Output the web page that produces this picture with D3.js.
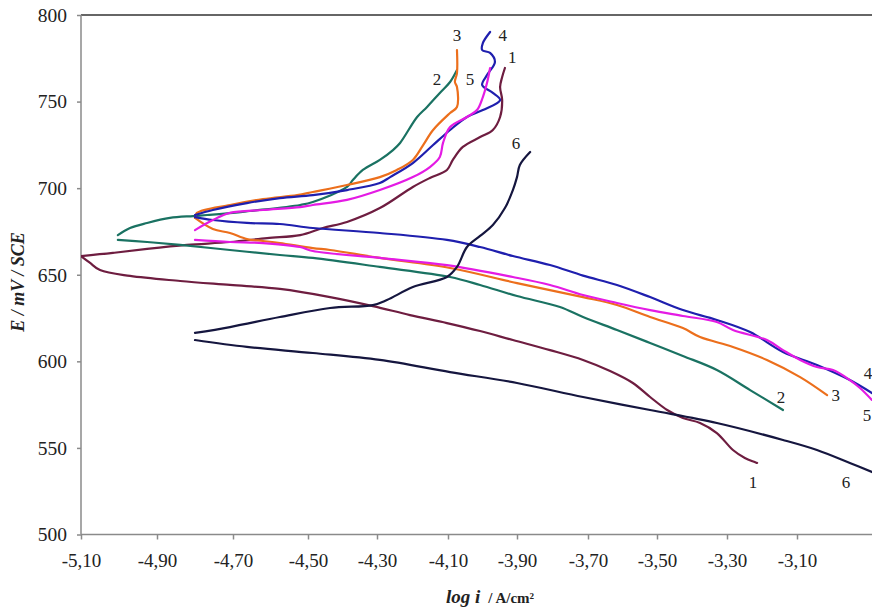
<!DOCTYPE html>
<html>
<head>
<meta charset="utf-8">
<script src="https://cdn.jsdelivr.net/npm/d3@7"></script>
<style>
  html, body { margin: 0; padding: 0; background: #fff; }
  svg { display: block; }
</style>
</head>
<body>
<svg id="chart" width="872" height="609"></svg>
<script>
// Tafel polarization curves, samples 1-6: E (mV vs SCE) against log i (A/cm²)
const xTicks = [-5.1, -4.9, -4.7, -4.5, -4.3, -4.1, -3.9, -3.7, -3.5, -3.3, -3.1];
const yTicks = [500, 550, 600, 650, 700, 750, 800];
const seriesNames = ["1", "2", "3", "4", "5", "6"];
const seriesColors = ["#6e1d40", "#1a7262", "#ec6f1c", "#1f1fae", "#e41be4", "#15163f"];

// cathodic branches, from corrosion potential outwards: [log i, E]
const cathodic1 = [[-5.100,660.8],[-5.076,656.8],[-5.050,652.7],[-4.971,649.3],[-4.839,646.4],[-4.708,644.1],[-4.575,641.8],[-4.436,637.1],[-4.312,631.9],[-4.207,626.7],[-4.103,622.1],[-4.007,617.5],[-3.912,612.3],[-3.807,606.5],[-3.714,600.8],[-3.636,594.4],[-3.570,587.5],[-3.520,579.4],[-3.471,571.9],[-3.426,567.3],[-3.377,564.4],[-3.329,558.6],[-3.283,548.8],[-3.249,544.2],[-3.214,541.3]];
const cathodic2 = [[-5.003,670.1],[-4.926,668.9],[-4.839,667.2],[-4.708,664.3],[-4.575,661.4],[-4.486,659.7],[-4.292,654.5],[-4.094,648.7],[-4.007,644.1],[-3.900,637.7],[-3.779,631.4],[-3.714,625.6],[-3.616,618.1],[-3.520,610.6],[-3.426,603.1],[-3.329,595.0],[-3.234,583.4],[-3.140,571.9]];
const cathodic3 = [[-4.800,682.8],[-4.753,676.4],[-4.708,674.1],[-4.663,670.6],[-4.620,669.5],[-4.575,668.3],[-4.486,665.4],[-4.436,664.3],[-4.292,659.7],[-4.094,653.9],[-3.900,645.2],[-3.714,637.1],[-3.616,632.5],[-3.520,625.6],[-3.426,619.2],[-3.377,614.0],[-3.283,608.3],[-3.186,600.8],[-3.091,590.9],[-3.014,580.5]];
const cathodic4 = [[-4.800,683.3],[-4.753,681.6],[-4.663,679.9],[-4.575,679.3],[-4.486,677.0],[-4.292,674.1],[-4.103,670.1],[-4.007,666.0],[-3.912,660.8],[-3.807,655.6],[-3.714,649.5],[-3.616,644.1],[-3.520,637.1],[-3.426,629.6],[-3.329,623.9],[-3.234,616.9],[-3.140,605.4],[-3.043,597.9],[-2.949,589.2],[-2.886,581.7]];
const cathodic5 = [[-4.800,670.1],[-4.708,668.9],[-4.620,668.3],[-4.521,666.0],[-4.486,663.7],[-4.292,659.7],[-4.103,655.6],[-3.912,648.7],[-3.807,644.1],[-3.714,638.3],[-3.616,633.7],[-3.520,629.6],[-3.426,626.2],[-3.329,622.7],[-3.283,618.1],[-3.186,612.3],[-3.140,606.5],[-3.091,600.8],[-3.043,596.7],[-2.997,595.0],[-2.949,589.2],[-2.920,584.6],[-2.886,577.7]];
const cathodic6 = [[-4.800,612.3],[-4.663,608.3],[-4.486,604.8],[-4.292,600.8],[-4.094,593.8],[-3.900,587.5],[-3.714,579.4],[-3.520,571.9],[-3.329,564.4],[-3.140,554.6],[-3.043,548.8],[-2.949,541.3],[-2.886,536.1]];

// anodic branches, from corrosion potential outwards: [log i, E]
const anodic1 = [[-5.100,660.8],[-5.016,662.6],[-4.926,664.9],[-4.821,667.2],[-4.708,668.9],[-4.609,671.2],[-4.521,672.9],[-4.457,677.0],[-4.387,680.5],[-4.292,688.5],[-4.199,700.7],[-4.151,705.9],[-4.103,710.5],[-4.086,716.3],[-4.057,723.8],[-4.007,729.5],[-3.970,733.6],[-3.949,741.1],[-3.943,750.9],[-3.949,758.4],[-3.943,764.2],[-3.935,769.4]];
const anodic2 = [[-5.003,672.9],[-4.971,677.0],[-4.926,679.9],[-4.866,682.8],[-4.805,683.9],[-4.768,684.5],[-4.700,685.7],[-4.655,686.8],[-4.521,690.3],[-4.486,692.0],[-4.387,700.7],[-4.370,704.7],[-4.341,710.5],[-4.292,716.3],[-4.255,722.0],[-4.235,726.1],[-4.187,741.1],[-4.159,746.9],[-4.123,755.0],[-4.094,761.3],[-4.074,768.2]];
const anodic3 = [[-4.800,682.8],[-4.795,685.7],[-4.708,690.3],[-4.620,693.7],[-4.529,696.0],[-4.486,697.8],[-4.387,701.8],[-4.292,706.4],[-4.244,710.5],[-4.199,716.3],[-4.170,724.9],[-4.142,733.6],[-4.094,743.4],[-4.074,746.9],[-4.074,758.4],[-4.080,761.3],[-4.074,766.5],[-4.074,779.8]];
const anodic4 = [[-4.800,684.5],[-4.753,687.4],[-4.663,691.4],[-4.575,694.3],[-4.486,696.0],[-4.387,698.9],[-4.292,703.0],[-4.263,706.4],[-4.199,714.5],[-4.142,724.9],[-4.094,733.6],[-4.045,741.1],[-3.999,745.1],[-3.949,750.9],[-3.970,755.0],[-4.001,759.6],[-3.987,765.3],[-3.964,772.9],[-3.978,778.1],[-4.001,779.8],[-3.999,783.8],[-3.978,790.2]];
const anodic5 = [[-4.800,675.8],[-4.753,681.6],[-4.708,685.7],[-4.620,687.4],[-4.521,689.1],[-4.486,690.3],[-4.387,693.2],[-4.292,698.9],[-4.199,706.4],[-4.151,712.2],[-4.123,718.0],[-4.114,726.1],[-4.094,735.3],[-4.045,741.1],[-4.016,745.1],[-3.999,752.6],[-3.987,760.7],[-3.978,769.4]];
const anodic6 = [[-4.800,616.4],[-4.708,619.8],[-4.575,625.6],[-4.436,630.8],[-4.312,632.5],[-4.272,635.4],[-4.199,642.9],[-4.103,648.7],[-4.074,654.5],[-4.045,666.0],[-4.007,672.4],[-3.970,678.7],[-3.935,688.5],[-3.912,698.9],[-3.900,706.4],[-3.892,713.4],[-3.863,720.9]];

// curve number annotations, placed in data coordinates: [log i, E]
const anodicTags = [[-3.914,775.7],[-4.131,763.2],[-4.074,788.3],[-3.941,788.3],[-4.036,763.2],[-3.903,726.1]];
const cathodicTags = [[-3.226,530.5],[-3.146,579.4],[-2.989,580.5],[-2.897,593.5],[-2.900,568.7],[-2.960,530.5]];

const cathodic = [cathodic1, cathodic2, cathodic3, cathodic4, cathodic5, cathodic6];
const anodic = [anodic1, anodic2, anodic3, anodic4, anodic5, anodic6];

const W = 872, H = 609;
const plotLeft = 81, plotTop = 15, plotBottom = 534.5, plotRight = 872;
const serif = "'Liberation Serif', 'Times New Roman', serif";

const svg = d3.select("#chart");
svg.append("rect").attr("width", W).attr("height", H).attr("fill", "#fff");

// the printed abscissa is not evenly spaced, so the scale is piecewise through each labelled value
const x = d3.scaleLinear()
  .domain([...xTicks, -2.9])
  .range([81, 157, 233, 308, 377, 448, 517, 588, 657, 727, 797, 867]);
const y = d3.scaleLinear().domain([500, 800]).range([plotBottom, plotTop]);

const locale = d3.formatLocale({ decimal: ",", thousands: ".", grouping: [3], currency: ["", ""], minus: "-" });
const fmtX = locale.format(".2f");

// plot frame: top border plus the two axis lines
svg.append("line").attr("x1", plotLeft).attr("x2", plotRight).attr("y1", plotTop).attr("y2", plotTop)
  .attr("stroke", "#333").attr("stroke-width", 1.5);
svg.append("line").attr("x1", plotLeft).attr("x2", plotLeft).attr("y1", plotTop).attr("y2", plotBottom)
  .attr("stroke", "#8a8a8a").attr("stroke-width", 1.5);
svg.append("line").attr("x1", plotLeft).attr("x2", plotRight).attr("y1", plotBottom).attr("y2", plotBottom)
  .attr("stroke", "#8a8a8a").attr("stroke-width", 1.5);

const gx = svg.append("g").attr("transform", `translate(0,${plotBottom})`)
  .call(d3.axisBottom(x).tickValues(xTicks).tickFormat(fmtX).tickSize(5).tickPadding(14));
gx.select(".domain").remove();
gx.selectAll(".tick line").attr("stroke", "#8a8a8a").attr("stroke-width", 1.5);
gx.selectAll(".tick text").style("font-family", serif).style("font-size", "19px").attr("fill", "#222");

const gy = svg.append("g").attr("transform", `translate(${plotLeft},0)`)
  .call(d3.axisLeft(y).tickValues(yTicks).tickFormat(d3.format("d")).tickSize(4).tickPadding(10));
gy.select(".domain").remove();
gy.selectAll(".tick line").attr("stroke", "#8a8a8a").attr("stroke-width", 1.5);
gy.selectAll(".tick text").style("font-family", serif).style("font-size", "19.5px").attr("fill", "#222");

// axis titles
svg.append("text")
  .attr("transform", "translate(24,282) rotate(-90)")
  .attr("text-anchor", "middle")
  .style("font-family", serif).style("font-size", "18px")
  .attr("font-weight", "bold").attr("font-style", "italic").attr("fill", "#222")
  .text("E / mV / SCE");

const xt = svg.append("text").attr("x", 446).attr("y", 603)
  .style("font-family", serif).attr("fill", "#222");
xt.append("tspan").style("font-size", "19px").attr("font-weight", "bold").attr("font-style", "italic").text("log i");
xt.append("tspan").style("font-size", "15px").attr("font-weight", "bold").attr("dx", 8).text("/ A/cm²");

// curves
svg.append("clipPath").attr("id", "plot")
  .append("rect").attr("x", plotLeft).attr("y", plotTop)
  .attr("width", plotRight - plotLeft).attr("height", plotBottom - plotTop);
const line = d3.line().x(d => x(d[0])).y(d => y(d[1])).curve(d3.curveCatmullRom.alpha(0.5));
const curves = svg.append("g").attr("clip-path", "url(#plot)");
seriesNames.forEach((name, i) => {
  [cathodic[i], anodic[i]].forEach(branch => {
    curves.append("path").datum(branch)
      .attr("d", line)
      .attr("fill", "none")
      .attr("stroke", seriesColors[i])
      .attr("stroke-width", 2.2)
      .attr("stroke-linejoin", "round")
      .attr("stroke-linecap", "round");
  });
});

// curve numbers
const tags = svg.append("g").style("font-family", serif).style("font-size", "17px").attr("fill", "#222")
  .attr("text-anchor", "middle");
seriesNames.forEach((name, i) => {
  [anodicTags[i], cathodicTags[i]].forEach(p => {
    tags.append("text").attr("x", x(p[0])).attr("y", y(p[1]))
      .attr("dy", "0.35em").text(name);
  });
});
</script>
</body>
</html>
